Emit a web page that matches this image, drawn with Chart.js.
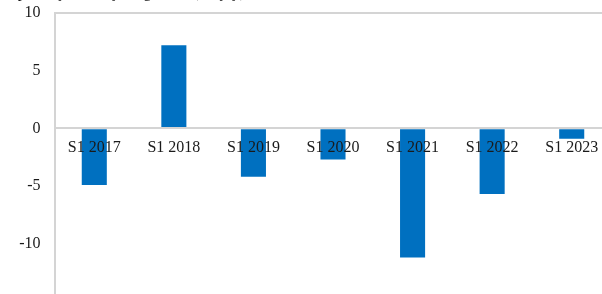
<!DOCTYPE html>
<html>
<head>
<meta charset="utf-8">
<script src="https://cdn.jsdelivr.net/npm/chart.js@4"></script>
<style>
  html, body { margin: 0; padding: 0; background: #fff; overflow: hidden; width: 602px; height: 294px; }
  #wrap { position: absolute; left: 0; top: -20px; width: 620px; height: 345px; }
</style>
</head>
<body>
<div id="wrap"><canvas id="chart"></canvas></div>
<script>
// semesters and growth values
const labels = ['S1 2017', 'S1 2018', 'S1 2019', 'S1 2020', 'S1 2021', 'S1 2022', 'S1 2023'];
const values = [-4.9, 7.2, -4.2, -2.7, -11.2, -5.7, -0.9];
const titleText = 'Exports: year-on-year growth (%, y/y)';
const yMin = -15;
const yMax = 10;
const yStep = 5;

const serif = "'Liberation Serif', 'DejaVu Serif', serif";
const lineGray = '#d4d4d4';

const ctx = document.getElementById('chart').getContext('2d');

new Chart(ctx, {
    type: 'bar',
    data: {
        labels: labels,
        datasets: [{
            data: values,
            backgroundColor: '#0070c0',
            borderWidth: 0,
            barPercentage: 0.63,
            categoryPercentage: 0.5
        }]
    },
    options: {
        responsive: true,
        maintainAspectRatio: false,
        animation: false,
        layout: {
            padding: { left: 0, right: 8.5, top: 0, bottom: 0 }
        },
        scales: {
            x: {
                position: { y: 0 },
                grid: { display: false, drawTicks: false },
                border: { display: true, color: lineGray, width: 2, z: 1 },
                ticks: {
                    z: 2,
                    color: '#1a1a1a',
                    padding: 10,
                    maxRotation: 0,
                    autoSkip: false,
                    font: { family: serif, size: 16 }
                }
            },
            y: {
                min: yMin,
                max: yMax,
                afterFit: scale => { scale.width = 54.5; },
                grid: {
                    drawTicks: false,
                    lineWidth: 2,
                    color: c => (c.tick && c.tick.value === yMax ? lineGray : 'rgba(0,0,0,0)')
                },
                border: { display: true, color: lineGray, width: 2 },
                ticks: {
                    stepSize: yStep,
                    color: '#1a1a1a',
                    padding: 14,
                    font: { family: serif, size: 16 }
                }
            }
        },
        plugins: {
            legend: { display: false },
            tooltip: { enabled: false },
            title: {
                display: true,
                text: titleText,
                align: 'start',
                color: '#1a1a1a',
                font: { family: serif, size: 16, weight: 'normal' },
                padding: { top: 3, bottom: 10.8 }
            }
        }
    }
});
</script>
</body>
</html>
